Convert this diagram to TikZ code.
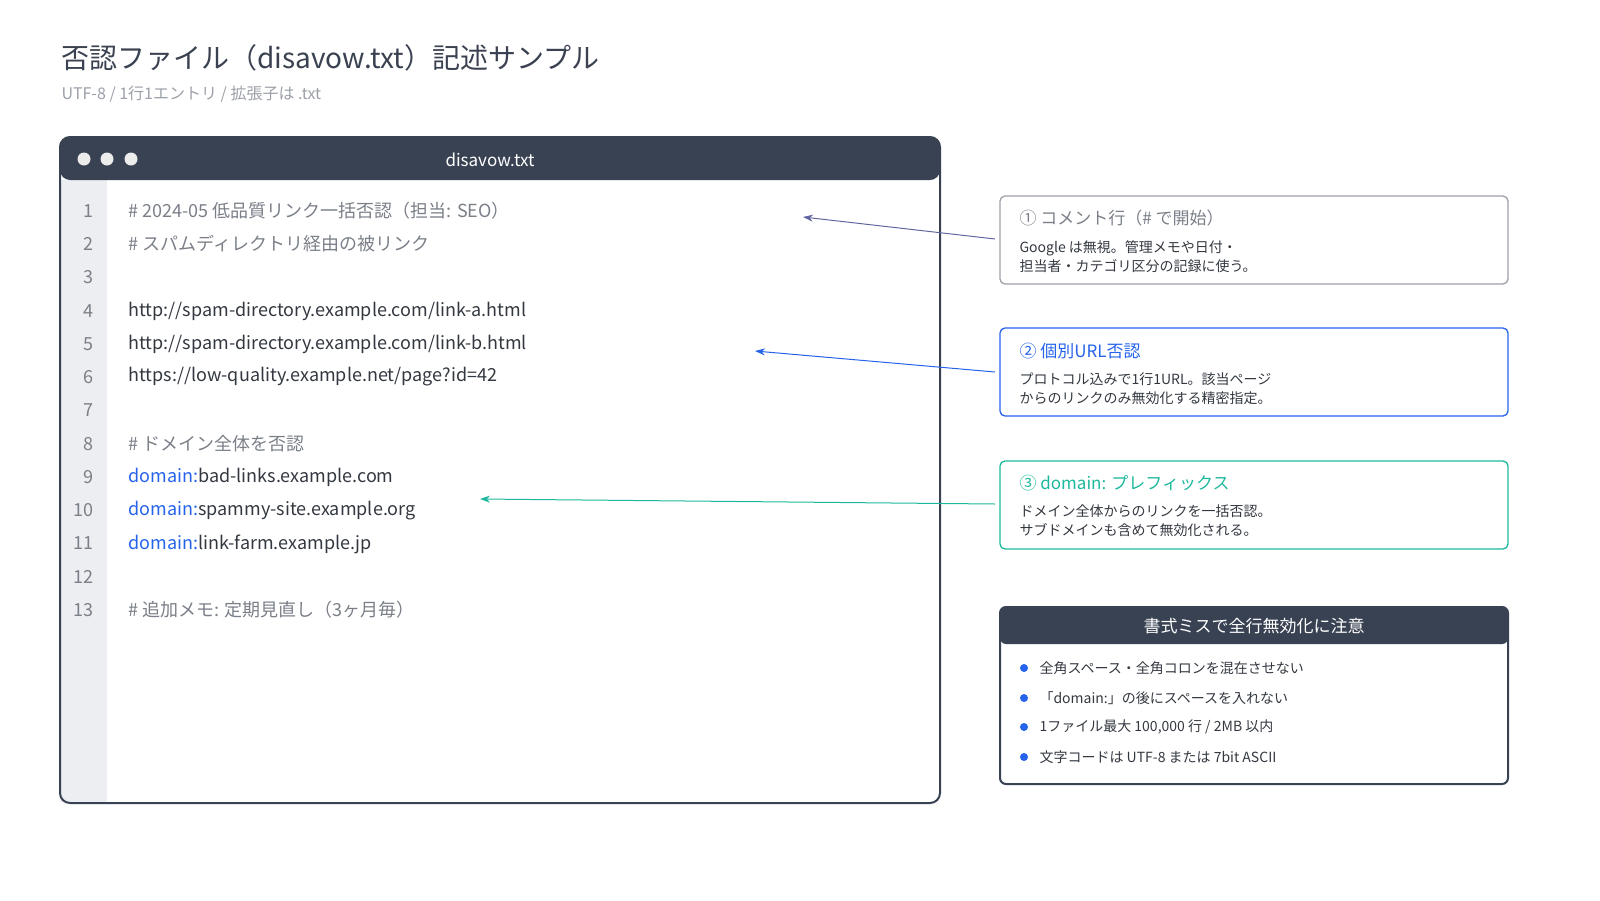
\documentclass[tikz,border=0pt]{standalone}
\usepackage{fontspec}
\setmainfont{Noto Sans CJK JP}
\usetikzlibrary{arrows.meta}
\definecolor{ink}{HTML}{3A4150}
\definecolor{dark}{HTML}{394253}
\definecolor{gut}{HTML}{ECEEF1}
\definecolor{cmt}{HTML}{7A7F88}
\definecolor{code}{HTML}{333840}
\definecolor{blu}{HTML}{2563EB}
\definecolor{teal}{HTML}{1DB89C}
\definecolor{gbord}{HTML}{9CA0A8}
\begin{document}
\begin{tikzpicture}[x=1pt,y=-1pt,
  num/.style={anchor=east,text=cmt,font=\fontsize{18}{20}\selectfont},
  cd/.style={anchor=west,text=code,font=\fontsize{18}{20}\selectfont},
  cmline/.style={cd,text=cmt},
  ct/.style={anchor=west,font=\fontsize{17}{20}\selectfont},
  cb/.style={anchor=west,text=code,font=\fontsize{14}{19}\selectfont,align=left},
  box/.style={draw,line width=1.3pt,rounded corners=5pt},
  arr/.style={-{Stealth[length=10pt,width=7pt]},line width=1pt}]
\node[anchor=west,text=ink,font=\fontsize{28}{32}\selectfont] (title) at (58,58) {否認ファイル（disavow.txt）記述サンプル};
\node[anchor=west,text=gbord,font=\fontsize{16}{18}\selectfont] (sub) at (58,94) {UTF-8 / 1行1エントリ / 拡張子は .txt};
% window
\fill[gut] (60,180) rectangle (107,802);
\fill[dark,rounded corners=10pt] (60,180) -- (60,137) -- (940,137) -- (940,180) -- cycle;
\draw[dark,line width=2pt,rounded corners=10pt] (60,137) rectangle (940,803);
\foreach \x/\n in {84/a,107/b,131/c} \fill[white!85!gray] (\x,159) circle (6.5pt) coordinate (dot\n);
\node[text=white,font=\fontsize{17}{20}\selectfont] (wt) at (490,160) {disavow.txt};
\foreach \i in {1,...,13} \node[num] (n\i) at (97,{211+(\i-1)*33.25}) {\i};
\node[cmline] (l1) at (125,211) {\# 2024-05 低品質リンク一括否認（担当: SEO）};
\node[cmline] (l2) at (125,244) {\# スパムディレクトリ経由の被リンク};
\node[cd] (l4) at (125,311) {http://spam-directory.example.com/link-a.html};
\node[cd] (l5) at (125,344) {http://spam-directory.example.com/link-b.html};
\node[cd] (l6) at (125,377) {https://low-quality.example.net/page?id=42};
\node[cmline] (l8) at (125,444) {\# ドメイン全体を否認};
\node[cd] (l9) at (125,477) {\textcolor{blu}{domain:}bad-links.example.com};
\node[cd] (l10) at (125,511) {\textcolor{blu}{domain:}spammy-site.example.org};
\node[cd] (l11) at (125,544) {\textcolor{blu}{domain:}link-farm.example.jp};
\node[cmline] (l13) at (125,610) {\# 追加メモ: 定期見直し（3ヶ月毎）};
% callouts
\draw[box,gbord] (1000,196) rectangle (1508,284);
\node[ct,text=cmt] (t1) at (1016,218) {① コメント行（\# で開始）};
\node[cb] (b1) at (1016,257) {Google は無視。管理メモや日付・\\担当者・カテゴリ区分の記録に使う。};
\draw[box,blu] (1000,328) rectangle (1508,416);
\node[ct,text=blu] (t2) at (1016,351) {② 個別URL否認};
\node[cb] (b2) at (1016,389) {プロトコル込みで1行1URL。該当ページ\\からのリンクのみ無効化する精密指定。};
\draw[box,teal] (1000,461) rectangle (1508,549);
\node[ct,text=teal] (t3) at (1016,483) {③ domain: プレフィックス};
\node[cb] (b3) at (1016,521) {ドメイン全体からのリンクを一括否認。\\サブドメインも含めて無効化される。};
% warning box
\fill[dark,rounded corners=6pt] (1000,644) -- (1000,607) -- (1508,607) -- (1508,644) -- cycle;
\draw[dark,line width=2pt,rounded corners=6pt] (1000,607) rectangle (1508,784);
\node[text=white,font=\fontsize{17}{20}\selectfont] (wt2) at (1254,626) {書式ミスで全行無効化に注意};
\foreach \y/\t [count=\k] in {668/{全角スペース・全角コロンを混在させない},698/{「domain:」の後にスペースを入れない},727/{1ファイル最大 100,000 行 / 2MB 以内},757/{文字コードは UTF-8 または 7bit ASCII}}{
  \fill[blu] (1024,\y) circle (4pt) coordinate (bul\k);
  \node[cb] (w\k) at (1036,\y) {\t};}
% arrows
\coordinate (a1) at (803,217); \coordinate (a2) at (755,351); \coordinate (a3) at (480,499);
\draw[arr,draw=cmt!80!blue] (995,239) -- (a1);
\draw[arr,blu] (995,372) -- (a2);
\draw[arr,teal] (995,504) -- (a3);
\pgfresetboundingbox
\useasboundingbox (0,0) rectangle (1600,900);
\end{tikzpicture}
\end{document}
